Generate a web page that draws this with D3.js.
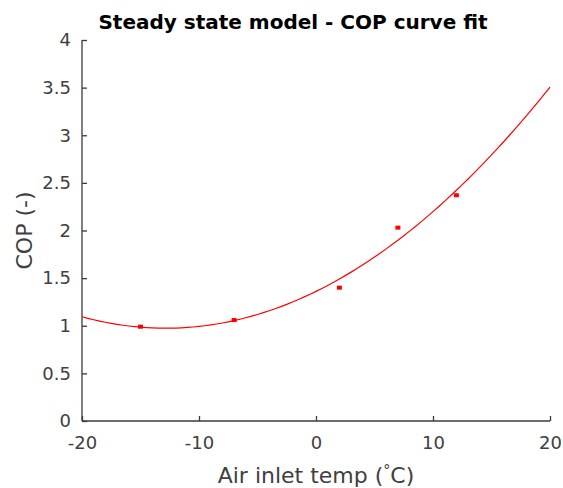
<!DOCTYPE html>
<html>
<head>
<meta charset="utf-8">
<script src="https://cdn.jsdelivr.net/npm/d3@7"></script>
<style>
  html, body { margin: 0; padding: 0; background: #fff; }
  svg text { font-family: "DejaVu Sans", sans-serif; }
</style>
</head>
<body>
<svg id="chart" width="563" height="488"></svg>
<script>
// Measured COP at each air inlet temperature
const airTemp = [-15, -7, 2, 7, 12];
const copValues = [0.99, 1.06, 1.40, 2.03, 2.37];
const xTicks = [-20, -10, 0, 10, 20];
const yTicks = [0, 0.5, 1, 1.5, 2, 2.5, 3, 3.5, 4];

// Least-squares quadratic fit COP = a*T^2 + b*T + c
function quadFit(xs, ys) {
  let s = [0, 0, 0, 0, 0], t = [0, 0, 0];
  xs.forEach((xv, i) => {
    for (let k = 0; k <= 4; k++) s[k] += Math.pow(xv, k);
    for (let k = 0; k <= 2; k++) t[k] += Math.pow(xv, k) * ys[i];
  });
  // Normal equations for [c, b, a]
  const M = [
    [s[0], s[1], s[2], t[0]],
    [s[1], s[2], s[3], t[1]],
    [s[2], s[3], s[4], t[2]]
  ];
  for (let i = 0; i < 3; i++) {
    for (let j = i + 1; j < 3; j++) {
      const f = M[j][i] / M[i][i];
      for (let k = i; k < 4; k++) M[j][k] -= f * M[i][k];
    }
  }
  const r = [0, 0, 0];
  for (let i = 2; i >= 0; i--) {
    let v = M[i][3];
    for (let k = i + 1; k < 3; k++) v -= M[i][k] * r[k];
    r[i] = v / M[i][i];
  }
  return r; // [c, b, a]
}
const [c0, c1, c2] = quadFit(airTemp, copValues);
const fitX = d3.range(-20, 20.01, 0.5);
const fitCurve = fitX.map(xv => ({ x: xv, y: c2 * xv * xv + c1 * xv + c0 }));

const svg = d3.select("#chart");
const plotLeft = 82, plotRight = 550, plotTop = 40, plotBottom = 421;

const x = d3.scaleLinear().domain([-20, 20]).range([plotLeft, plotRight]);
const y = d3.scaleLinear().domain([0, 4]).range([plotBottom, plotTop]);

const axisColor = "#3a3a3a";
const tickColor = "#404040";

// Bottom axis (plain hyphen for negative labels)
const gx = svg.append("g").attr("transform", `translate(0,${plotBottom})`)
  .call(d3.axisBottom(x).tickValues(xTicks).tickSize(-5).tickPadding(15).tickFormat(d => String(d)));
// Left axis
const gy = svg.append("g").attr("transform", `translate(${plotLeft},0)`)
  .call(d3.axisLeft(y).tickValues(yTicks).tickSize(-5).tickPadding(11).tickFormat(d => String(d)));

[gx, gy].forEach(g => {
  g.select(".domain").attr("stroke", axisColor).attr("stroke-width", 1.3);
  g.selectAll(".tick line").attr("stroke", axisColor).attr("stroke-width", 1.3);
  g.selectAll(".tick text").attr("fill", tickColor).style("font-size", "18px");
});
gy.select(".domain").attr("d", `M0,${plotBottom}V${plotTop}`);
gx.select(".domain").attr("d", `M${plotLeft},0H${plotRight}`);

// Fitted curve
svg.append("path")
  .datum(fitCurve)
  .attr("fill", "none")
  .attr("stroke", "#ff0000")
  .attr("stroke-width", 1.2)
  .attr("d", d3.line().x(d => x(d.x)).y(d => y(d.y)));

// Measured points
svg.selectAll("rect.pt")
  .data(airTemp.map((t, i) => ({ t, v: copValues[i] })))
  .join("rect")
  .attr("class", "pt")
  .attr("x", d => x(d.t) - 2.5)
  .attr("y", d => y(d.v) - 2)
  .attr("width", 5)
  .attr("height", 4)
  .attr("fill", "#ff0000");

// Title
svg.append("text")
  .attr("x", 293)
  .attr("y", 29)
  .attr("text-anchor", "middle")
  .style("font-size", "20px")
  .style("font-weight", "bold")
  .attr("fill", "#000")
  .text("Steady state model - COP curve fit");

// Axis labels
const xl = svg.append("text")
  .attr("x", (plotLeft + plotRight) / 2)
  .attr("y", 483)
  .attr("text-anchor", "middle")
  .style("font-size", "22px")
  .attr("fill", tickColor);
xl.append("tspan").text("Air inlet temp (");
xl.append("tspan").attr("baseline-shift", "8").style("font-size", "14px").text("°");
xl.append("tspan").text("C)");

svg.append("text")
  .attr("transform", `translate(32,${(plotTop + plotBottom) / 2}) rotate(-90)`)
  .attr("text-anchor", "middle")
  .style("font-size", "22px")
  .attr("fill", tickColor)
  .text("COP (-)");
</script>
</body>
</html>
